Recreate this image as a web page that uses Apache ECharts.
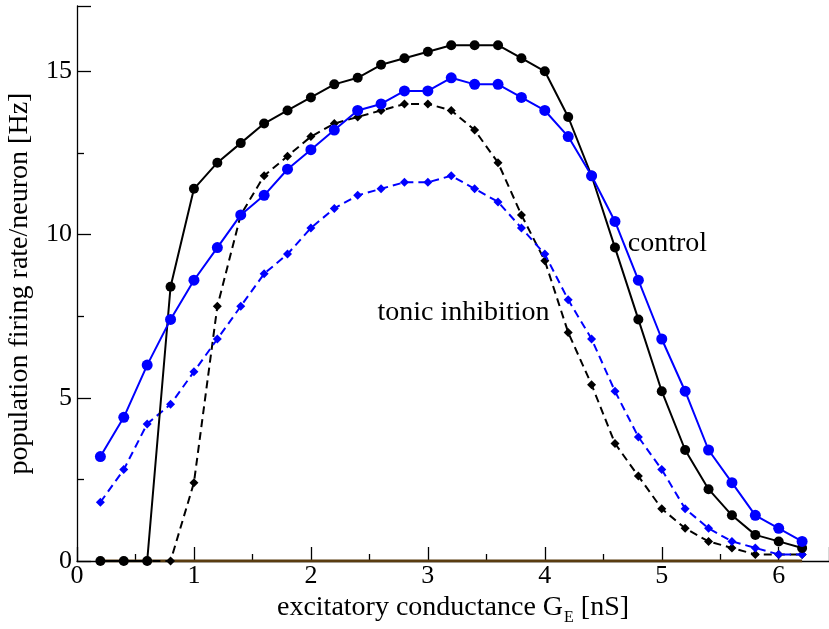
<!DOCTYPE html>
<html>
<head>
<meta charset="utf-8">
<script src="https://cdn.jsdelivr.net/npm/echarts@6/dist/echarts.min.js"></script>
<style>
html,body{margin:0;padding:0;background:#fff;}
#chart{width:829px;height:629px;}
</style>
</head>
<body>
<div id="chart"></div>
<script>
const xValues = [0.2,0.4,0.6,0.8,1.0,1.2,1.4,1.6,1.8,2.0,2.2,2.4,2.6,2.8,3.0,3.2,3.4,3.6,3.8,4.0,4.2,4.4,4.6,4.8,5.0,5.2,5.4,5.6,5.8,6.0,6.2];
const controlBlack = [0,0,0,8.4,11.4,12.2,12.8,13.4,13.8,14.2,14.6,14.8,15.2,15.4,15.6,15.8,15.8,15.8,15.4,15.0,13.6,11.8,9.6,7.4,5.2,3.4,2.2,1.4,0.8,0.6,0.4];
const controlBlue = [3.2,4.4,6.0,7.4,8.6,9.6,10.6,11.2,12.0,12.6,13.2,13.8,14.0,14.4,14.4,14.8,14.6,14.6,14.2,13.8,13.0,11.8,10.4,8.6,6.8,5.2,3.4,2.4,1.4,1.0,0.6];
const tonicBlack = [0,0,0,0,2.4,7.8,10.6,11.8,12.4,13.0,13.4,13.6,13.8,14.0,14.0,13.8,13.2,12.2,10.6,9.2,7.0,5.4,3.6,2.6,1.6,1.0,0.6,0.4,0.2,0.2,0.2];
const tonicBlue = [1.8,2.8,4.2,4.8,5.8,6.8,7.8,8.8,9.4,10.2,10.8,11.2,11.4,11.6,11.6,11.8,11.4,11.0,10.2,9.4,8.0,6.8,5.2,3.8,2.8,1.6,1.0,0.6,0.4,0.2,0.2];
const baseline = [0,0,0,0,0,0,0,0,0,0,0,0,0,0,0,0,0,0,0,0,0,0,0,0,0,0,0,0,0,0,0];
const annotations = [
  {text: 'control', x: 4.71, y: 9.72},
  {text: 'tonic inhibition', x: 2.57, y: 7.62}
];
const xTicks = [0,1,2,3,4,5,6];
const yTicks = [0,5,10,15];

const FONT = "'Liberation Serif', 'DejaVu Serif', serif";
const pair = arr => arr.map((v,i)=>[xValues[i], v]);

const chart = echarts.init(document.getElementById('chart'), null, {renderer:'canvas'});
const axisCommon = {
  axisLine:{show:true, onZero:false, lineStyle:{color:'#000', width:1.3}},
  axisTick:{show:true, inside:true, length:14, lineStyle:{color:'#000', width:1.3}},
  minorTick:{show:true, splitNumber:2, length:7, lineStyle:{color:'#000', width:1.3}},
  splitLine:{show:false},
  minorSplitLine:{show:false},
  axisLabel:{color:'#000', fontFamily:FONT, fontSize:26},
  nameTextStyle:{color:'#000', fontFamily:FONT, fontSize:28}
};
const option = {
  animation:false,
  backgroundColor:'#fff',
  grid:{left:77, right:0, top:6, bottom:68, containLabel:false, outerBoundsMode:'none'},
  xAxis: Object.assign({}, axisCommon, {
    type:'value', min:0, max:6.43, interval:1,
    axisLabel: Object.assign({}, axisCommon.axisLabel, {margin:2, showMaxLabel:false,
      formatter: v => xTicks.includes(v) ? String(v) : ''}),
    name:'{a|excitatory conductance G}{s|E}{a| [nS]}',
    nameLocation:'middle', nameGap:29,
    nameTextStyle:{color:'#000', fontFamily:FONT, fontSize:28,
      rich:{a:{fontFamily:FONT, fontSize:28, color:'#000'},
            s:{fontFamily:FONT, fontSize:16, color:'#000', padding:[20,0,0,1]}}}
  }),
  yAxis: Object.assign({}, axisCommon, {
    type:'value', min:0, max:17, interval:5,
    axisLabel: Object.assign({}, axisCommon.axisLabel, {margin:5, showMaxLabel:false,
      formatter: v => yTicks.includes(v) ? String(v) : ''}),
    name:'population firing rate/neuron [Hz]',
    nameLocation:'middle', nameGap:43
  }),
  series:[
    {type:'line', data:pair(baseline), symbol:'none', lineStyle:{color:'#5a3c10', width:3}, z:1},
    {type:'line', data:pair(tonicBlack), symbol:'diamond', symbolSize:9, itemStyle:{color:'#000'},
      lineStyle:{color:'#000', width:2, type:[8,5]}, z:2},
    {type:'line', data:pair(tonicBlue), symbol:'diamond', symbolSize:9, itemStyle:{color:'#0000ff'},
      lineStyle:{color:'#0000ff', width:2, type:[8,5]}, z:3},
    {type:'line', data:pair(controlBlack), symbol:'circle', symbolSize:10, itemStyle:{color:'#000'},
      lineStyle:{color:'#000', width:2}, z:4},
    {type:'line', data:pair(controlBlue), symbol:'circle', symbolSize:11, itemStyle:{color:'#0000ff'},
      lineStyle:{color:'#0000ff', width:2}, z:5},
    {type:'scatter', symbolSize:0, silent:true, z:6, itemStyle:{opacity:1},
      data: annotations.map(a=>({value:[a.x,a.y], label:{formatter:a.text}})),
      label:{show:true, position:'right', distance:0, color:'#000', opacity:1, fontFamily:FONT, fontSize:28}}
  ]
};
chart.setOption(option);
</script>
</body>
</html>
